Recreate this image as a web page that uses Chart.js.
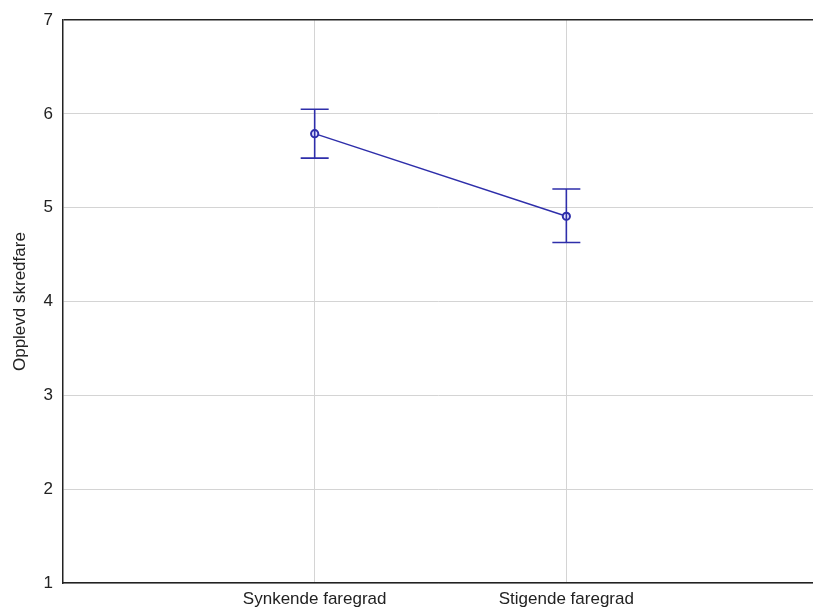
<!DOCTYPE html>
<html>
<head>
<meta charset="utf-8">
<script src="https://cdn.jsdelivr.net/npm/chart.js@4"></script>
<style>
  html, body { margin: 0; padding: 0; background: #fff; overflow: hidden; }
  #wrap { width: 813px; height: 613px; }
</style>
</head>
<body>
<div id="wrap"><canvas id="chart"></canvas></div>
<script>
const categories = ['Synkende faregrad', 'Stigende faregrad'];
const means = [5.79, 4.91];
const upper = [6.05, 5.20];
const lower = [5.53, 4.63];
const yTicks = [1, 2, 3, 4, 5, 6, 7];

const lineColor = '#2e2eaa';
const font = { family: 'Liberation Sans, Arial, sans-serif', size: 17 };

// error bars drawn through the chart's own scales
const errorBars = {
  id: 'errorBars',
  afterDatasetsDraw(chart) {
    const { ctx, scales: { x, y } } = chart;
    ctx.save();
    ctx.strokeStyle = lineColor;
    ctx.lineWidth = 1.6;
    categories.forEach((c, i) => {
      const px = x.getPixelForValue(i + 1);
      const top = y.getPixelForValue(upper[i]);
      const bot = y.getPixelForValue(lower[i]);
      ctx.beginPath();
      ctx.moveTo(px, top); ctx.lineTo(px, bot);
      ctx.moveTo(px - 14, top); ctx.lineTo(px + 14, top);
      ctx.moveTo(px - 14, bot); ctx.lineTo(px + 14, bot);
      ctx.stroke();
    });
    ctx.restore();
  }
};

new Chart(document.getElementById('chart'), {
  type: 'line',
  data: {
    datasets: [{
      data: means.map((m, i) => ({ x: i + 1, y: m })),
      borderColor: lineColor,
      borderWidth: 1.4,
      pointRadius: 3.6,
      pointBorderWidth: 2,
      pointBackgroundColor: '#e4e4ff',
      pointBorderColor: lineColor,
      tension: 0
    }]
  },
  options: {
    responsive: true,
    maintainAspectRatio: false,
    animation: false,
    layout: { autoPadding: false, padding: { top: 20, left: 0, right: 0, bottom: 0 } },
    plugins: { legend: { display: false }, tooltip: { enabled: false } },
    scales: {
      x: {
        type: 'linear',
        min: 0,
        max: 2.98,
        afterBuildTicks: s => { s.ticks = categories.map((c, i) => ({ value: i + 1 })); },
        afterFit: s => { s.height = 30; },
        ticks: {
          callback: v => categories[v - 1],
          color: '#222',
          font: font,
          padding: 6,
          maxRotation: 0
        },
        grid: { color: '#d4d4d4', drawTicks: false },
        border: { color: '#222', width: 1.5 }
      },
      y: {
        min: 1,
        max: 7,
        afterBuildTicks: s => { s.ticks = yTicks.map(v => ({ value: v })); },
        afterFit: s => { s.width = 63; },
        ticks: { color: '#222', font: font, padding: 10 },
        grid: {
          drawTicks: false,
          color: c => c.tick && c.tick.value === 7 ? '#222' : '#d4d4d4',
          lineWidth: c => c.tick && c.tick.value === 7 ? 1.5 : 1
        },
        border: { color: '#222', width: 1.5 },
        title: {
          display: true,
          text: 'Opplevd skredfare',
          color: '#222',
          font: font,
          padding: { top: 10, bottom: 0 }
        }
      }
    }
  },
  plugins: [errorBars]
});
</script>
</body>
</html>
